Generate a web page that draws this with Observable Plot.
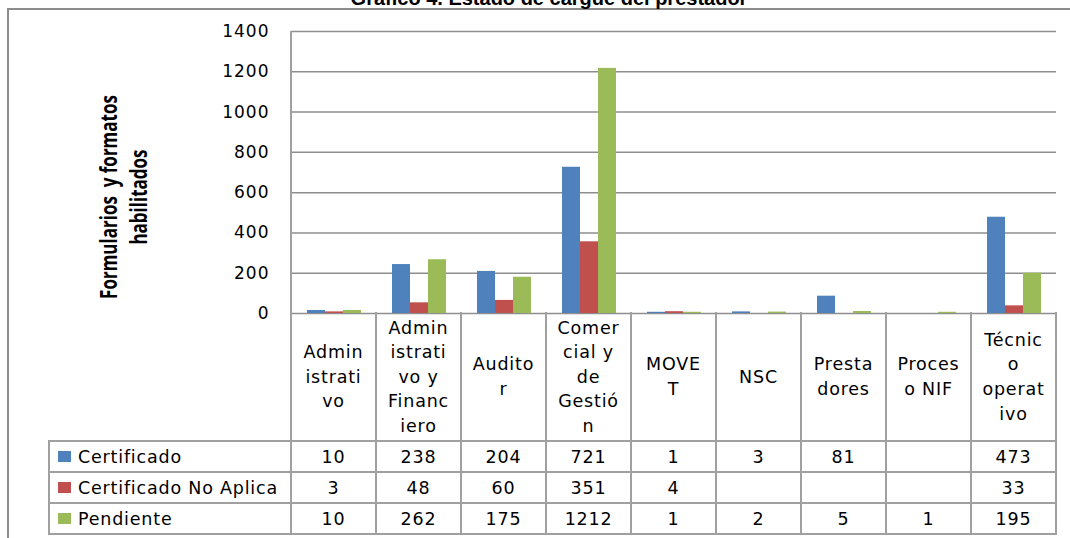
<!DOCTYPE html>
<html>
<head>
<meta charset="utf-8">
<script src="https://cdn.jsdelivr.net/npm/d3@7"></script>
<script src="https://cdn.jsdelivr.net/npm/@observablehq/plot@0.6"></script>
<style>
  html, body { margin: 0; padding: 0; background: #fff; }
  #wrap { position: relative; width: 1070px; height: 538px; overflow: hidden; background: #fff; font-family: "DejaVu Sans", sans-serif; color: #000; }
  #wrap svg.bars { position: absolute; left: 0; top: 0; }
  .bars text { letter-spacing: 1px; }
  .title { position: absolute; font-family: "Liberation Sans", Arial, sans-serif; font-weight: bold; font-size: 20px; line-height: 20px; text-align: center; white-space: nowrap; }
  .frameBox { position: absolute; border: 2px solid #8c8c8c; box-sizing: border-box; }
  .ytitle { position: absolute; font-family: "Open Sans", sans-serif; font-weight: bold; font-size: 17px; line-height: 22px; text-align: center; white-space: nowrap; transform: rotate(-90deg) scale(1, 1.35); transform-origin: 50% 50%; }
  .hl, .vl { position: absolute; background: #a0a0a0; }
  .cell { position: absolute; display: flex; flex-direction: column; justify-content: center; align-items: center; font-size: 17.5px; letter-spacing: 0.8px; text-align: center; white-space: nowrap; }
  .head { line-height: 24.6px; }
  .legcell { position: absolute; display: flex; align-items: center; font-size: 17.5px; letter-spacing: 0.8px; white-space: nowrap; }
  .sw { display: inline-block; width: 13px; height: 11px; margin-right: 7px; }
</style>
</head>
<body>
<div id="wrap"></div>
<script>
// ---- Data ----
const titleText = "Gráfico 4. Estado de cargue del prestador";
const yTitleLines = ["Formularios\u00a0 y formatos", "habilitados"];
const categories = ["Administrativo", "Administrativo y Financiero", "Auditor", "Comercial y de Gestión", "MOVET", "NSC", "Prestadores", "Proceso NIF", "Técnico operativo"];
const categoryLabelLines = [
  ["Admin", "istrati", "vo"],
  ["Admin", "istrati", "vo y", "Financ", "iero"],
  ["Audito", "r"],
  ["Comer", "cial y", "de", "Gestió", "n"],
  ["MOVE", "T"],
  ["NSC"],
  ["Presta", "dores"],
  ["Proces", "o NIF"],
  ["Técnic", "o", "operat", "ivo"]
];
const series = ["Certificado", "Certificado No Aplica", "Pendiente"];
const certificado = [10, 238, 204, 721, 1, 3, 81, null, 473];
const certificadoNoAplica = [3, 48, 60, 351, 4, null, null, null, 33];
const pendiente = [10, 262, 175, 1212, 1, 2, 5, 1, 195];
const seriesColors = ["#4F81BD", "#C0504D", "#9BBB59"];
const yTicks = [0, 200, 400, 600, 800, 1000, 1200, 1400];

// ---- Build table of values ----
const seriesValues = [certificado, certificadoNoAplica, pendiente];
const rows = [];
series.forEach((s, si) => {
  categories.forEach((c, ci) => {
    const v = seriesValues[si][ci];
    if (v != null) rows.push({category: c, series: s, value: v});
  });
});

const wrap = document.getElementById("wrap");

const chart = Plot.plot({
  className: "bars",
  width: 1070,
  height: 320,
  marginLeft: 291,
  marginRight: 14,
  marginTop: 31,
  marginBottom: 7,
  style: {fontFamily: "DejaVu Sans, sans-serif", fontSize: "17px", color: "#000", background: "transparent", overflow: "visible"},
  fx: {domain: categories, padding: 0, axis: null, label: null},
  x: {domain: series, paddingInner: 0, paddingOuter: 0.775, axis: null},
  y: {domain: [0, 1400], ticks: yTicks, tickSize: 0, tickPadding: 22, label: null, tickFormat: d => String(d)},
  color: {domain: series, range: seriesColors},
  marks: [
    Plot.ruleY(yTicks, {stroke: "#8e8e8e", strokeWidth: 1.5}),
    Plot.barY(rows, {fx: "category", x: "series", y: "value", fill: "series", insetTop: -1})
  ]
});
wrap.appendChild(chart);

const fx = chart.scale("fx");
const y = chart.scale("y");
const step = fx.bandwidth;
const xLeft = fx.apply(categories[0]);
const xRight = fx.apply(categories[categories.length - 1]) + step;
const y0 = y.apply(0);
const yTop = y.apply(1400);

function el(cls, css, html) {
  const d = document.createElement("div");
  d.className = cls;
  Object.assign(d.style, css);
  if (html != null) d.innerHTML = html;
  wrap.appendChild(d);
  return d;
}

// Outer chart frame
el("frameBox", {left: "7px", top: "8px", width: "1100px", height: "600px"});

// Title (cut at the top edge, as in the reference)
el("title", {left: "49px", width: "1000px", top: "-12px"}, titleText);

// Y-axis title
const ycx = 124, ycy = 197, yw = 280;
el("ytitle", {left: (ycx - yw / 2) + "px", top: (ycy - 22) + "px", width: yw + "px", height: "44px"}, yTitleLines.join("<br>"));

// Data table geometry
const headH = 128, rowH = 31, legLeft = 49;
const rowTop = y0 + headH;
const tableBottom = rowTop + rowH * series.length;

// Horizontal lines
for (let r = 0; r <= series.length; r++) {
  el("hl", {left: legLeft + "px", top: (rowTop + r * rowH - 1) + "px", width: (xRight - legLeft + 1) + "px", height: "2px"});
}
// Vertical lines
el("vl", {left: (xLeft - 1) + "px", top: yTop + "px", width: "2px", height: (tableBottom - yTop + 1) + "px"});
categories.forEach((c, i) => {
  const xr = fx.apply(c) + step;
  el("vl", {left: (xr - 1) + "px", top: (y0 - 1) + "px", width: "2px", height: (tableBottom - y0 + 2) + "px"});
});
el("vl", {left: (legLeft - 1) + "px", top: (rowTop - 1) + "px", width: "2px", height: (tableBottom - rowTop + 2) + "px"});

// Header (category labels)
categories.forEach((c, i) => {
  el("cell head", {left: fx.apply(c) + "px", top: y0 + "px", width: step + "px", height: headH + "px"},
     categoryLabelLines[i].map(s => `<span>${s}</span>`).join(""));
});

// Legend cells and values
series.forEach((s, si) => {
  const top = rowTop + si * rowH;
  el("legcell", {left: (legLeft + 9) + "px", top: top + "px", height: rowH + "px"},
     `<span class="sw" style="background:${seriesColors[si]}"></span><span>${s}</span>`);
  categories.forEach((c, ci) => {
    const v = seriesValues[si][ci];
    el("cell", {left: fx.apply(c) + "px", top: top + "px", width: step + "px", height: rowH + "px"}, v == null ? "" : String(v));
  });
});
</script>
</body>
</html>
